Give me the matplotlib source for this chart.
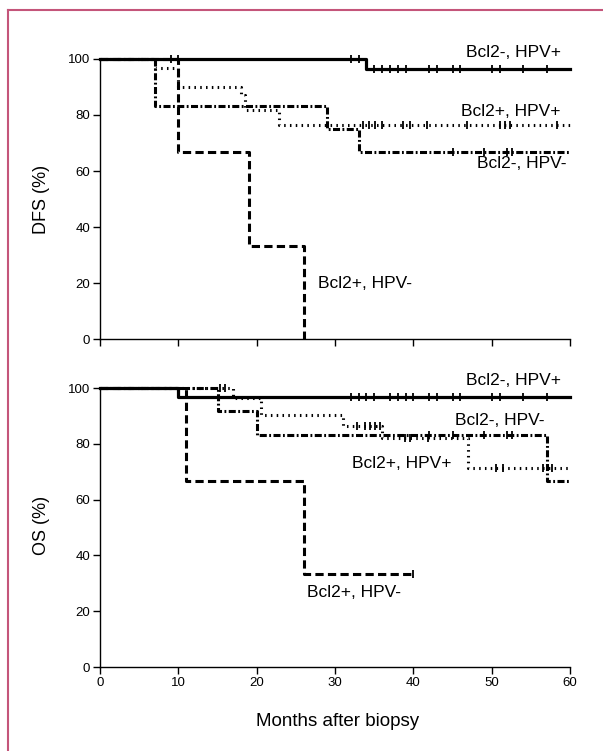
import numpy as np
import matplotlib.pyplot as plt
from matplotlib.lines import Line2D

plt.rcParams['font.family'] = ['Liberation Sans', 'DejaVu Sans']

# ---- DFS (top panel) : step times (months) and survival (%) ----
dfs_neg_pos_t = [0, 34, 60]
dfs_neg_pos_s = [100, 96.4, 96.4]
dfs_neg_pos_cens = [9, 10, 32, 33, 35, 36, 37, 38, 39, 42, 43, 45, 46, 50, 51, 54, 57]

dfs_pos_pos_t = [0, 7, 10, 18, 18.5, 22.8, 60]
dfs_pos_pos_s = [100, 96.7, 90.1, 87.1, 81.8, 76.4, 76.4]
dfs_pos_pos_cens = [33.6, 34.4, 35.1, 36, 38.7, 39.6, 41.7, 46.8, 51.1, 51.7, 52.3, 58.3]

dfs_neg_neg_t = [0, 7, 29, 33, 60]
dfs_neg_neg_s = [100, 83.3, 75, 66.7, 66.7]
dfs_neg_neg_cens = [45, 49, 52, 52.6]

dfs_pos_neg_t = [0, 10, 19, 26]
dfs_pos_neg_s = [100, 66.7, 33.3, 0]
dfs_pos_neg_cens = []

# ---- OS (bottom panel) ----
os_neg_pos_t = [0, 10, 60]
os_neg_pos_s = [100, 96.7, 96.7]
os_neg_pos_cens = [32, 33, 34, 35, 37, 38, 39, 40, 42, 43, 45, 46, 50, 51, 54, 57]

os_pos_pos_t = [0, 17, 20.6, 31, 36, 47, 60]
os_pos_pos_s = [100, 96.4, 90.2, 86.5, 82, 71.5, 71.5]
os_pos_pos_cens = [15.3, 16, 32.8, 33.8, 34.5, 35.1, 35.7, 38.9, 39.6, 41.9, 50.6, 51.5, 56.6, 57.7]

os_neg_neg_t = [0, 15, 20, 57, 60]
os_neg_neg_s = [100, 91.7, 83.3, 66.7, 66.7]
os_neg_neg_cens = [42, 45, 49, 52, 52.6]

os_pos_neg_t = [0, 11, 26, 40]
os_pos_neg_s = [100, 66.7, 33.3, 33.3]
os_pos_neg_cens = [40]

x_ticks = [0, 10, 20, 30, 40, 50, 60]
y_ticks = [0, 20, 40, 60, 80, 100]

styles = {
    'solid': dict(linestyle='-', linewidth=2.3),
    'dotted': dict(linestyle=(0, (0.5, 1.4)), linewidth=2.2),
    'dashdot': dict(linestyle=(0, (2.3, 0.8, 0.6, 0.8)), linewidth=2.2),
    'dashed': dict(linestyle=(0, (2.7, 1.4)), linewidth=2.2),
}


def km(ax, t, s, cens, style):
    ax.step(t, s, where='post', color='black', clip_on=False, **styles[style])
    if cens:
        idx = np.searchsorted(t, cens, side='right') - 1
        ys = np.array(s)[idx]
        ax.plot(cens, ys, linestyle='none', marker='|', markersize=6,
                markeredgewidth=1.3, color='black', clip_on=False)


fig = plt.figure(figsize=(6.03, 7.51), dpi=100)
ax1 = fig.add_axes([100 / 603, 1 - 339 / 751, 470 / 603, 280 / 751])
ax2 = fig.add_axes([100 / 603, 1 - 667 / 751, 470 / 603, 279 / 751])

km(ax1, dfs_neg_pos_t, dfs_neg_pos_s, dfs_neg_pos_cens, 'solid')
km(ax1, dfs_pos_pos_t, dfs_pos_pos_s, dfs_pos_pos_cens, 'dotted')
km(ax1, dfs_neg_neg_t, dfs_neg_neg_s, dfs_neg_neg_cens, 'dashdot')
km(ax1, dfs_pos_neg_t, dfs_pos_neg_s, dfs_pos_neg_cens, 'dashed')

km(ax2, os_neg_pos_t, os_neg_pos_s, os_neg_pos_cens, 'solid')
km(ax2, os_pos_pos_t, os_pos_pos_s, os_pos_pos_cens, 'dotted')
km(ax2, os_neg_neg_t, os_neg_neg_s, os_neg_neg_cens, 'dashdot')
km(ax2, os_pos_neg_t, os_pos_neg_s, os_pos_neg_cens, 'dashed')

for ax in (ax1, ax2):
    ax.set_xlim(0, 60)
    ax.set_ylim(0, 100)
    ax.set_xticks(x_ticks)
    ax.set_yticks(y_ticks)
    for side in ('top', 'right'):
        ax.spines[side].set_visible(False)
    for side in ('left', 'bottom'):
        ax.spines[side].set_linewidth(1.0)
    ax.tick_params(direction='out', length=5, width=1.0, labelsize=9.5, pad=2)
    ax.patch.set_alpha(0)

ax1.set_xticklabels([])

lab = dict(fontsize=12.5, color='black', va='baseline')
ax1.text(58.8, 100.6, 'Bcl2-, HPV+', ha='right', **lab)
ax1.text(58.8, 79.6, 'Bcl2+, HPV+', ha='right', **lab)
ax1.text(59.6, 61.0, 'Bcl2-, HPV-', ha='right', **lab)
ax1.text(27.8, 18.2, 'Bcl2+, HPV-', ha='left', **lab)

ax2.text(58.8, 101.1, 'Bcl2-, HPV+', ha='right', **lab)
ax2.text(56.8, 86.7, 'Bcl2-, HPV-', ha='right', **lab)
ax2.text(44.9, 71.2, 'Bcl2+, HPV+', ha='right', **lab)
ax2.text(26.4, 25.2, 'Bcl2+, HPV-', ha='left', **lab)

fig.text(42 / 603, 1 - 199 / 751, 'DFS (%)', rotation=90, ha='center', va='center', fontsize=13)
fig.text(42 / 603, 1 - 525 / 751, 'OS (%)', rotation=90, ha='center', va='center', fontsize=13)
fig.text(338 / 603, 1 - 721 / 751, 'Months after biopsy', ha='center', va='center', fontsize=13.5)

# pink frame around the figure panel
frame = '#c4557a'
fig.add_artist(Line2D([8 / 603, 1.0], [1 - 10 / 751, 1 - 10 / 751], color=frame, linewidth=1.5,
                      transform=fig.transFigure))
fig.add_artist(Line2D([8 / 603, 8 / 603], [1 - 10 / 751, 0.0], color=frame, linewidth=1.5,
                      transform=fig.transFigure))

fig.savefig('out.png', dpi=100)
